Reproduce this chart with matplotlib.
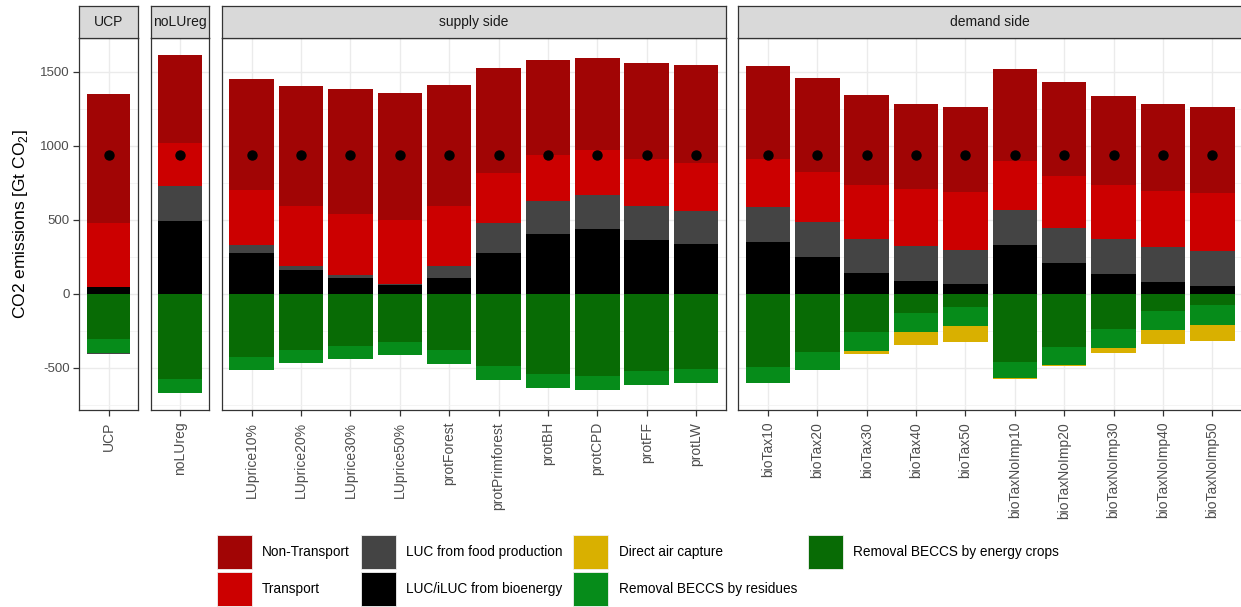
import matplotlib
matplotlib.use("Agg")
import matplotlib.pyplot as plt
from matplotlib.patches import Rectangle
import numpy as np

plt.rcParams["font.family"] = ["Liberation Sans", "DejaVu Sans"]
plt.rcParams["mathtext.fontset"] = "custom"
plt.rcParams["mathtext.rm"] = "Liberation Sans"
plt.rcParams["axes.unicode_minus"] = False

# Facets and scenarios
facets = ["UCP", "noLUreg", "supply side", "demand side"]
scenarios = [
    ["UCP"],
    ["noLUreg"],
    ["LUprice10%", "LUprice20%", "LUprice30%", "LUprice50%", "protForest",
     "protPrimforest", "protBH", "protCPD", "protFF", "protLW"],
    ["bioTax10", "bioTax20", "bioTax30", "bioTax40", "bioTax50",
     "bioTaxNoImp10", "bioTaxNoImp20", "bioTaxNoImp30", "bioTaxNoImp40", "bioTaxNoImp50"],
]

# Emission components [Gt CO2], one value per scenario (same order as above, flattened)
non_transport = [867, 593, 750, 816, 840, 858, 819, 705, 638, 619, 651, 664,
                 633, 631, 608, 577, 577, 623, 633, 606, 584, 577]
transport = [437, 290, 370, 401, 417, 428, 404, 340, 311, 302, 315, 322,
             324, 342, 365, 381, 390, 329, 353, 364, 382, 391]
luc_food = [-10, 237, 54, 29, 16, 7, 83, 201, 223, 232, 228, 225,
            235, 234, 232, 238, 234, 237, 237, 235, 237, 237]
luc_bio = [43, 493, 277, 160, 108, 61, 106, 277, 405, 437, 365, 334,
           349, 248, 140, 86, 63, 329, 205, 133, 77, 54]
dac = [0, 0, 0, 0, 0, 0, 0, 0, 0, 0, 0, 0,
       0, -4, -20, -88, -108, -6, -7, -34, -93, -111]
residues = [-93, -94, -90, -88, -90, -88, -94, -92, -94, -93, -92, -92,
            -108, -120, -126, -129, -130, -113, -122, -128, -130, -131]
energy_crops = [-306, -579, -426, -380, -353, -328, -383, -489, -543, -558, -525, -511,
                -493, -394, -259, -130, -90, -459, -360, -239, -115, -78]
budget = [935, 939, 935, 937, 937, 935, 935, 939, 939, 939, 939, 939,
          939, 939, 939, 939, 939, 939, 939, 939, 939, 939]

legend_labels = ["Non-Transport", "Transport", "LUC from food production",
                 "LUC/iLUC from bioenergy", "Direct air capture",
                 "Removal BECCS by residues", "Removal BECCS by energy crops"]
colors = ["#a10505", "#cc0000", "#444444", "#000000", "#d9b000", "#068c1a", "#086b05"]
components = [non_transport, transport, luc_food, luc_bio, dac, residues, energy_crops]

W, H = 1241, 607
fig = plt.figure(figsize=(W / 100, H / 100), dpi=100)

panel_left = [79.3, 150.7, 222.0, 738.3]
panel_width = [58.4, 58.6, 503.7, 503.7]
panel_top, panel_bottom = 37.7, 410.0
strip_top = 5.7
ymin, ymax = -786, 1730

start = 0
for k, facet in enumerate(facets):
    names = scenarios[k]
    n = len(names)
    x = np.arange(n)
    sl = slice(start, start + n)
    start += n

    ax = fig.add_axes([panel_left[k] / W, 1 - panel_bottom / H,
                       panel_width[k] / W, (panel_bottom - panel_top) / H])
    ax.set_xlim(-0.6, n - 0.4)
    ax.set_ylim(ymin, ymax)
    ax.set_axisbelow(True)
    ax.set_yticks([-500, 0, 500, 1000, 1500])
    ax.set_yticks([-750, -250, 250, 750, 1250], minor=True)
    ax.set_xticks(x)
    ax.set_xticklabels(names, rotation=90, fontsize=10, color="#4d4d4d")
    ax.grid(which="major", color="#ebebeb", linewidth=1.0)
    ax.grid(which="minor", axis="y", color="#f2f2f2", linewidth=0.6)
    ax.tick_params(which="minor", length=0)
    ax.tick_params(axis="x", length=4, width=0.9, color="#333333", pad=4.5)
    if k == 0:
        ax.tick_params(axis="y", length=4, width=0.9, color="#333333", pad=3,
                       labelsize=9.5, labelcolor="#4d4d4d")
    else:
        ax.tick_params(axis="y", length=0, labelleft=False)
    for s in ax.spines.values():
        s.set_color("#333333")
        s.set_linewidth(0.9)

    # stacked bars, ggplot order: last level nearest zero
    pos = np.zeros(n)
    neg = np.zeros(n)
    for comp, col in reversed(list(zip(components, colors))):
        v = np.array(comp[sl], dtype=float)
        vp = np.where(v > 0, v, 0)
        vn = np.where(v < 0, v, 0)
        ax.bar(x, vp, 0.9, bottom=pos, color=col, linewidth=0)
        ax.bar(x, vn, 0.9, bottom=neg, color=col, linewidth=0)
        pos += vp
        neg += vn
    ax.scatter(x, budget[sl], s=42, color="black", zorder=5)

    # facet strip
    sax = fig.add_axes([panel_left[k] / W, 1 - panel_top / H,
                        panel_width[k] / W, (panel_top - strip_top) / H])
    sax.set_facecolor("#d9d9d9")
    sax.set_xticks([])
    sax.set_yticks([])
    for s in sax.spines.values():
        s.set_color("#333333")
        s.set_linewidth(0.9)
    sax.text(0.5, 0.5, facet, ha="center", va="center", fontsize=10,
             color="#1a1a1a", transform=sax.transAxes)

fig.text(21 / W, 1 - 224 / H, "CO2 emissions [Gt CO$_{\\mathrm{2}}$]",
         rotation=90, ha="center", va="center", fontsize=12.5)

# legend (2 rows, filled column-wise)
key_x = [216.7, 360.6, 573.3, 807.7]
key_y = [535.0, 572.3]
for i, (lab, col) in enumerate(zip(legend_labels, colors)):
    c, r = divmod(i, 2)
    fig.add_artist(Rectangle((key_x[c] / W, 1 - (key_y[r] + 34) / H), 35 / W, 34 / H,
                             transform=fig.transFigure, facecolor=col,
                             edgecolor="#f0f0f0", linewidth=0.6))
    fig.text((key_x[c] + 45.5) / W, 1 - (key_y[r] + 17) / H, lab,
             ha="left", va="center", fontsize=9.8, color="black")

fig.savefig("out.png", dpi=100)
